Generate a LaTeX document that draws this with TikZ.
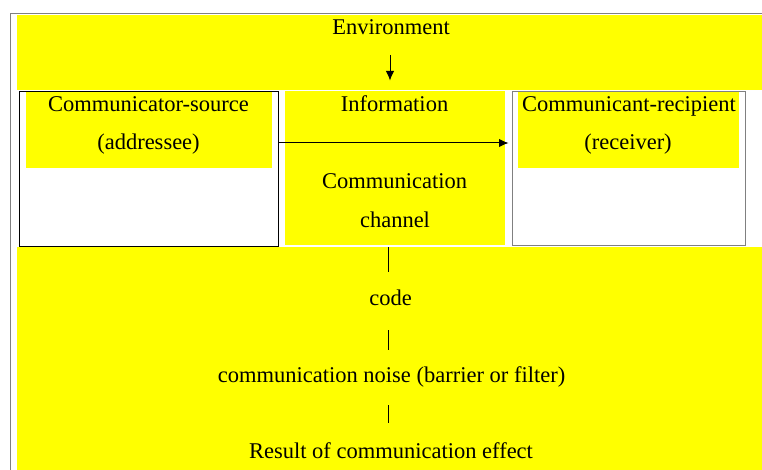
\documentclass[tikz,border=0pt]{standalone}
\usepackage{fontspec}
\setmainfont{Liberation Serif}
\usetikzlibrary{arrows.meta}
\definecolor{hl}{HTML}{FFFF00}
\definecolor{framegray}{HTML}{808080}
\begin{document}
\begin{tikzpicture}[x=1pt,y=-1pt,
  lbl/.style={font=\fontsize{22.5}{26}\selectfont, inner sep=0pt, anchor=base},
  arr/.style={-{Latex[length=9.5pt,width=8.5pt]}, line width=1pt},
  bar/.style={line width=1pt},
  boxnode/.style={inner sep=0pt, outer sep=0pt, anchor=north west, line width=0.9pt}]
\useasboundingbox (0,0) rectangle (762,470);
\fill[white] (0,0) rectangle (762,470);
% outer frame
\draw[framegray, line width=1.2pt] (10.5,470) -- (10.5,13.5) -- (762,13.5);
% yellow bands
\fill[hl] (17,15) rectangle (762,90);
\fill[hl] (17,247) rectangle (762,470);
\fill[hl] (285,91) rectangle (505,245);
% side boxes
\node[boxnode, draw=black, minimum width=258.5pt, minimum height=155pt] (src) at (19.5,91) {};
\node[boxnode, draw=framegray, minimum width=233pt, minimum height=154.5pt] (rcv) at (512,91) {};
\fill[hl] (26,92.5) rectangle (272,168);
\fill[hl] (518,92.5) rectangle (739,168);
% texts
\node[lbl] (env) at (391,35) {Environment};
\node[lbl] (srcA) at (148.5,112) {Communicator-source};
\node[lbl] (srcB) at (148.5,150) {(addressee)};
\node[lbl] (info) at (394.5,112) {Information};
\node[lbl] (chA) at (394.5,189) {Communication};
\node[lbl] (chB) at (395,227) {channel};
\node[lbl] (rcvA) at (629,112) {Communicant-recipient};
\node[lbl] (rcvB) at (628,150) {(receiver)};
\node[lbl] (code) at (390.5,305) {code};
\node[lbl] (noise) at (391.5,382.5) {communication noise (barrier or filter)};
\node[lbl] (res) at (391,458) {Result of communication effect};
% connectors
\coordinate (d1) at (390,55);
\coordinate (d2) at (390,80.5);
\draw[arr] (d1) -- (d2);
\coordinate (h1) at (278,143);
\coordinate (h2) at (508.5,143);
\draw[arr] (h1) -- (h2);
\coordinate (v1) at (388,247);
\coordinate (v2) at (388,272);
\coordinate (v3) at (388,330);
\coordinate (v4) at (388,350);
\coordinate (v5) at (388.5,405);
\coordinate (v6) at (388.5,423);
\draw[bar] (v1) -- (v2);
\draw[bar] (v3) -- (v4);
\draw[bar] (v5) -- (v6);
\end{tikzpicture}
\end{document}
